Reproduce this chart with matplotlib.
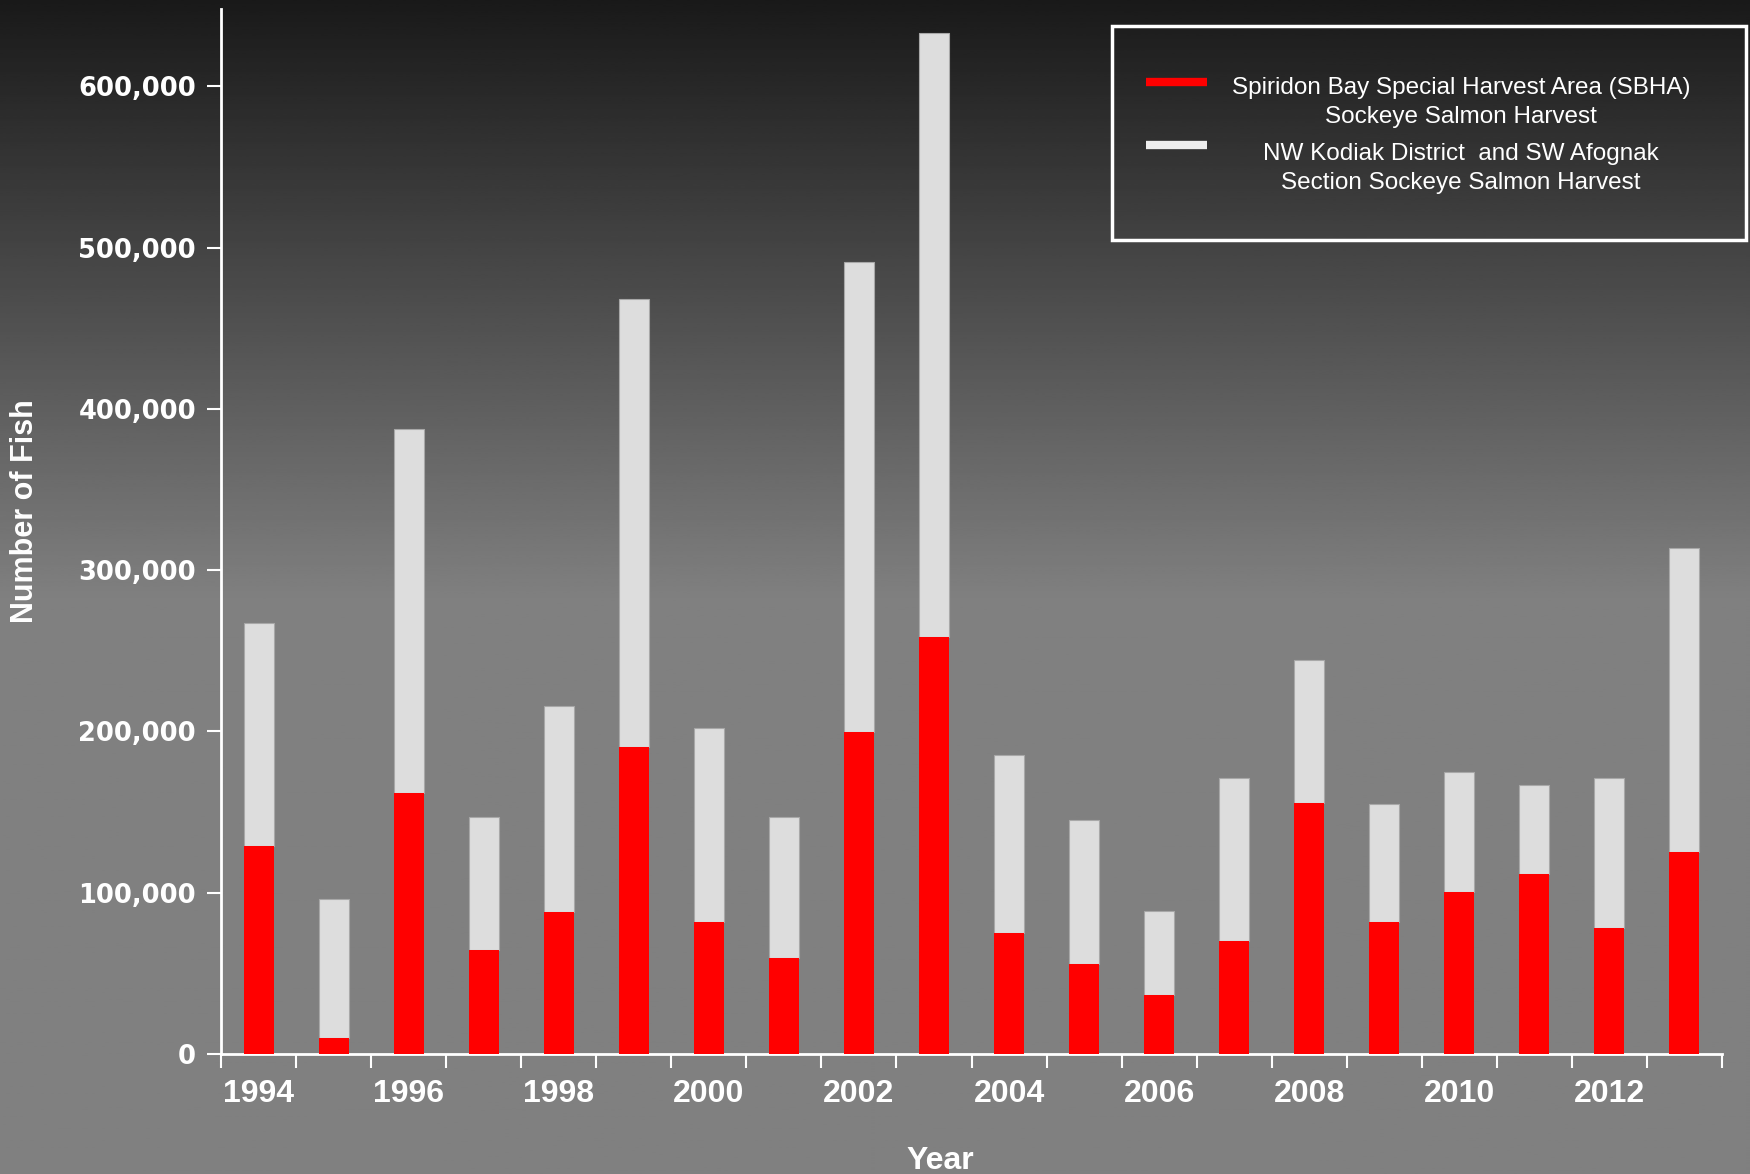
import numpy as np
import matplotlib.pyplot as plt
from matplotlib.lines import Line2D
from matplotlib.patches import Rectangle

years = list(range(1994, 2014))
sbha = [129000, 10000, 162000, 64500, 88000, 190500, 81800, 59600, 199500, 258400,
        74800, 56100, 36700, 70000, 155900, 81800, 100500, 111500, 78300, 125400]
total = [267000, 96300, 387300, 146900, 215500, 468400, 202300, 146900, 491200, 633300,
         185700, 144800, 88700, 171100, 244600, 155200, 174600, 167000, 171100, 313900]
nw_kodiak = [t - s for t, s in zip(total, sbha)]
label_years = [y for y in years if y % 2 == 0]
legend_lines = [['Spiridon Bay Special Harvest Area (SBHA)', 'Sockeye Salmon Harvest'],
                ['NW Kodiak District  and SW Afognak', 'Section Sockeye Salmon Harvest']]

W, H = 1750, 1174
fig = plt.figure(figsize=(W / 100, H / 100), dpi=100)

# background: dark at top, fading to flat gray around the middle
bg = fig.add_axes([0, 0, 1, 1])
rows = np.linspace(0, 1, 500)
top_frac = 0.51
shade = np.where(rows < top_frac, 0.10 + (0.502 - 0.10) * rows / top_frac, 0.502)
bg.imshow(np.repeat(shade[:, None], 2, axis=1), cmap='gray', vmin=0, vmax=1,
          aspect='auto', extent=[0, 1, 0, 1], origin='upper')
bg.axis('off')

ax = fig.add_axes([221 / W, 1 - 1054 / H, (1722 - 221) / W, (1054 - 9) / H])
ax.patch.set_alpha(0)

x = np.arange(len(years))
ax.bar(x, sbha, width=0.4, color='#ff0000', zorder=3)
ax.bar(x, nw_kodiak, width=0.4, bottom=sbha, color='#dddddd',
       edgecolor='#a8a8a8', linewidth=0.8, zorder=2)

ax.set_xlim(-0.5, len(years) - 0.5)
ax.set_ylim(0, 648000)

for s in ['top', 'right']:
    ax.spines[s].set_visible(False)
for s in ['left', 'bottom']:
    ax.spines[s].set_color('white')
    ax.spines[s].set_linewidth(2)

yt = np.arange(0, 600001, 100000)
ax.set_yticks(yt)
ax.set_yticklabels([f'{v:,}' for v in yt], fontsize=18.5, fontweight='bold',
                   color='white', family='DejaVu Sans')
ax.tick_params(axis='y', direction='out', length=10, width=1.5, color='white', pad=8)

ax.set_xticks([years.index(y) for y in label_years])
ax.set_xticklabels([str(y) for y in label_years], fontsize=23, fontweight='bold',
                   color='white', family='Liberation Sans')
ax.tick_params(axis='x', which='major', length=0, pad=18)
ax.set_xticks(np.arange(-0.5, len(years)), minor=True)
ax.tick_params(axis='x', which='minor', direction='out', length=10, width=1.5, color='white')

fig.text(25 / W, 1 - 511 / H, 'Number of Fish', rotation=90, ha='center', va='center',
         fontsize=22, fontweight='bold', color='white', family='Liberation Sans')
fig.text(940 / W, 1 - 1161 / H, 'Year', ha='center', va='center',
         fontsize=23, fontweight='bold', color='white', family='Liberation Sans')

# legend box drawn by hand so the handles sit level with the first text line
fig.patches.append(Rectangle((1112 / W, 1 - 240 / H), (1746 - 1112) / W, (240 - 26) / H,
                             transform=fig.transFigure, fill=False, edgecolor='white',
                             linewidth=2.5))
handle_y = [82, 145]
text_y = [[88, 117], [154, 183]]
for col, hy, ty, txt in zip(['#ff0000', '#eeeeee'], handle_y, text_y, legend_lines):
    fig.add_artist(Line2D([1146 / W, 1207 / W], [1 - hy / H, 1 - hy / H],
                          transform=fig.transFigure, color=col, lw=6, solid_capstyle='butt'))
    for yy, line in zip(ty, txt):
        fig.text(1461 / W, 1 - yy / H, line, ha='center', va='center', fontsize=17.5,
                 color='white', family='Liberation Sans')

fig.savefig('out.png', dpi=100)
